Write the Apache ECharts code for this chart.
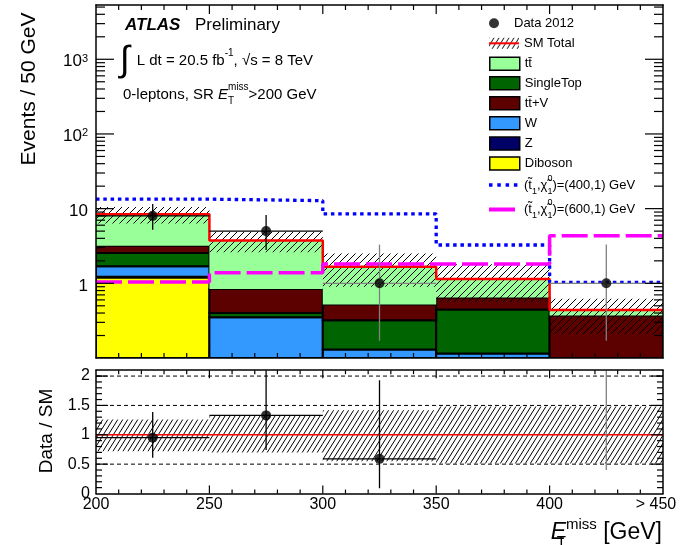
<!DOCTYPE html>
<html>
<head>
<meta charset="utf-8">
<script src="https://cdn.jsdelivr.net/npm/echarts@6.0.0/dist/echarts.min.js"></script>
<style>
html,body{margin:0;padding:0;background:#fff;}
#chart{width:688px;height:545px;}
</style>
</head>
<body>
<div id="chart"></div>
<script>
// ================= DATA =================
const binEdges   = [200, 250, 300, 350, 400, 450];
const binCenters = [225, 275, 325, 375, 425];

const xTickValues = [200, 250, 300, 350, 400, 450];
const xTickLabels = ['200', '250', '300', '350', '400', '> 450'];
const xMinorValues = [210, 220, 230, 240, 260, 270, 280, 290, 310, 320, 330, 340,
                      360, 370, 380, 390, 410, 420, 430, 440];
const yMajorValues = [1, 10, 100, 1000];
const yMajorLabels = ['1', '10', '10{sup|2}', '10{sup|3}'];
const yMinorValues = [0.2, 0.3, 0.4, 0.5, 0.6, 0.7, 0.8, 0.9,
                      2, 3, 4, 5, 6, 7, 8, 9,
                      20, 30, 40, 50, 60, 70, 80, 90,
                      200, 300, 400, 500, 600, 700, 800, 900,
                      2000, 3000, 4000, 5000];
const ratioTickValues = [0, 0.5, 1, 1.5, 2];
const ratioTickLabels = ['0', '0.5', '1', '1.5', '2'];
const ratioMinorValues = [0.1, 0.2, 0.3, 0.4, 0.6, 0.7, 0.8, 0.9, 1.1, 1.2, 1.3, 1.4,
                          1.6, 1.7, 1.8, 1.9, 2.0];

// stacked SM backgrounds (per bin)
const diboson   = [1.20, 0, 0, 0, 0];
const zjets     = [0.02, 0, 0, 0, 0];
const wjets     = [0.47, 0.35, 0.13, 0.115, 0];
const singleTop = [0.85, 0.05, 0.19, 0.33, 0];
const ttV       = [0.64, 0.44, 0.20, 0.20, 0.37];
const ttbar     = [5.24, 2.91, 1.15, 0.49, 0.07];
const smTotal   = [8.4, 3.75, 1.67, 1.14, 0.44];
const smBandLow  = [6.3, 2.6, 0.9, 0.56, 0.21];
const smBandHigh = [10.5, 4.9, 2.5, 1.8, 0.62];
// signals
const signal400 = [13.4, 12.8, 8.5, 3.26, 1.03];
const signal600 = [1.04, 1.39, 1.81, 1.81, 4.34];
// data
const dataCounts = [8, 5, 1, null, 1];
const dataLow    = [5.2, 2.8, 0.17, null, 0.17];
const dataHigh   = [11.5, 8.2, 3.3, null, 3.3];
// ratio panel
const ratioValues = [0.95, 1.33, 0.59, null, 2.27];
const ratioLow    = [0.61, 0.74, 0.09, null, 0.40];
const ratioHigh   = [1.39, 2.30, 1.93, null, 7.5];
const ratioBandLow  = [0.72, 0.70, 0.55, 0.51, 0.51];
const ratioBandHigh = [1.26, 1.32, 1.42, 1.48, 1.48];
const ratioRefDashed = [0.5, 1.5, 2];
const ratioRefSolid  = [1];

// ================= STYLE / LAYOUT =================
const FONT = 'Liberation Sans';
const Y_MIN = 0.1, Y_MAX = 5330;
const R_MIN = 0, R_MAX = 2.1;
const mainErrColors  = ['#000', '#000', '#808080', '#000', '#808080'];
const ratioErrColors = ['#000', '#000', '#000', '#000', '#808080'];

function makeHatch(w, h) {
  const c = document.createElement('canvas');
  c.width = w; c.height = h;
  const g = c.getContext('2d');
  g.strokeStyle = '#000'; g.lineWidth = 1;
  g.beginPath();
  g.moveTo(0, h); g.lineTo(w, 0);
  g.moveTo(-w, h); g.lineTo(0, 0);
  g.moveTo(w, h); g.lineTo(2 * w, 0);
  g.stroke();
  return c;
}
const hatchMain  = {image: makeHatch(7, 7), repeat: 'repeat'};
const hatchRatio = {image: makeHatch(5, 8), repeat: 'repeat'};

function rectShape(api, x0, x1, y0, y1) {
  const a = api.coord([x0, y1]);
  const b = api.coord([x1, y0]);
  return {x: a[0], y: a[1], width: b[0] - a[0], height: b[1] - a[1]};
}

const series = [];

// ---- stacked backgrounds ----
const stackDefs = [
  {name: 'Diboson',        values: diboson,   color: '#ffff00', stroke: true},
  {name: 'Z',              values: zjets,     color: '#000066', stroke: true},
  {name: 'W',              values: wjets,     color: '#3399ff', stroke: true},
  {name: 'SingleTop',      values: singleTop, color: '#006400', stroke: true},
  {name: 'tt\u0304+V',     values: ttV,       color: '#5c0000', stroke: true},
  {name: 'tt\u0304',       values: ttbar,     color: '#99ff99', stroke: false}
];
const cum = [0, 0, 0, 0, 0];
stackDefs.forEach(def => {
  const items = [];
  def.values.forEach((v, i) => {
    const lo = cum[i], hi = cum[i] + v;
    cum[i] = hi;
    if (v > 0) items.push([binEdges[i], binEdges[i + 1], Math.max(lo, Y_MIN), hi]);
  });
  series.push({
    type: 'custom', name: def.name, xAxisIndex: 0, yAxisIndex: 0, z: 2, clip: true, silent: true,
    itemStyle: {color: def.color},
    encode: {x: [0, 1], y: [2, 3]},
    data: items,
    renderItem: (params, api) => ({
      type: 'rect',
      shape: rectShape(api, api.value(0), api.value(1), api.value(2), api.value(3)),
      style: {fill: def.color, stroke: def.stroke ? '#000' : null, lineWidth: def.stroke ? 2 : 0}
    })
  });
});

// ---- SM uncertainty band (main) ----
series.push({
  type: 'custom', name: 'SM band', xAxisIndex: 0, yAxisIndex: 0, z: 3, clip: true, silent: true,
  encode: {x: [0, 1], y: [2, 3]},
  data: smBandLow.map((lo, i) => [binEdges[i], binEdges[i + 1], lo, smBandHigh[i]]),
  renderItem: (params, api) => ({
    type: 'rect',
    shape: rectShape(api, api.value(0), api.value(1), api.value(2), api.value(3)),
    style: {fill: hatchMain}
  })
});

function stepData(vals) {
  const d = vals.map((v, i) => [binEdges[i], v]);
  d.push([binEdges[binEdges.length - 1], vals[vals.length - 1]]);
  return d;
}
series.push({
  type: 'line', name: 'SM Total', xAxisIndex: 0, yAxisIndex: 0, z: 4, step: 'end',
  symbol: 'none', silent: true, data: stepData(smTotal),
  itemStyle: {color: '#ff0000'}, lineStyle: {color: '#ff0000', width: 2.5}
});
series.push({
  type: 'line', name: 'sig400', xAxisIndex: 0, yAxisIndex: 0, z: 5, step: 'end',
  symbol: 'none', silent: true, data: stepData(signal400),
  itemStyle: {color: '#0000ff'}, lineStyle: {color: '#0000ff', width: 3.3, type: [3.5, 3.8], cap: 'butt'}
});
series.push({
  type: 'line', name: 'sig600', xAxisIndex: 0, yAxisIndex: 0, z: 5, step: 'end',
  symbol: 'none', silent: true, data: stepData(signal600),
  itemStyle: {color: '#ff00ff'}, lineStyle: {color: '#ff00ff', width: 3.5, type: [26, 6], cap: 'butt'}
});

// ---- error bar renderer ----
function errRender(colors) {
  return (params, api) => {
    const cs = params.coordSys;
    const c  = api.coord([api.value(0), api.value(1)]);
    const lo = api.coord([api.value(0), api.value(2)]);
    const hi = api.coord([api.value(0), api.value(3)]);
    const l  = api.coord([api.value(4), api.value(1)]);
    const r  = api.coord([api.value(5), api.value(1)]);
    const col = colors[api.value(6)];
    const top = Math.max(hi[1], cs.y), bot = Math.min(lo[1], cs.y + cs.height);
    const ch = [{type: 'line', shape: {x1: c[0], y1: bot, x2: c[0], y2: top}, style: {stroke: col, lineWidth: 1.3}}];
    if (c[1] >= cs.y && c[1] <= cs.y + cs.height) {
      ch.push({type: 'line', shape: {x1: l[0], y1: c[1], x2: r[0], y2: c[1]}, style: {stroke: col, lineWidth: 1.3}});
    }
    return {type: 'group', children: ch};
  };
}

const dataErrItems = [];
dataCounts.forEach((v, i) => {
  if (v != null) dataErrItems.push([binCenters[i], v, dataLow[i], dataHigh[i], binEdges[i], binEdges[i + 1], i]);
});
series.push({
  type: 'custom', name: 'data err', xAxisIndex: 0, yAxisIndex: 0, z: 6, clip: true, silent: true,
  encode: {x: [0, 4, 5], y: [1, 2, 3]},
  data: dataErrItems, renderItem: errRender(mainErrColors)
});
series.push({
  type: 'scatter', name: 'Data 2012', xAxisIndex: 0, yAxisIndex: 0, z: 7, silent: true,
  symbol: 'circle', symbolSize: 10, itemStyle: {color: '#000'},
  data: dataCounts.map((v, i) => v == null ? null : [binCenters[i], v]).filter(d => d)
});

// ---- frame ticks drawn through the axes' scales ----
// item: [xValue, yValue, kind]  kind 0 = tick on y (left+right), 1 = tick on x (bottom+top)
function tickRender(len) {
  return (params, api) => {
    const cs = params.coordSys;
    const p = api.coord([api.value(0), api.value(1)]);
    const st = {stroke: '#000', lineWidth: 1.2};
    if (api.value(2) === 0) {
      const y = p[1];
      return {type: 'group', children: [
        {type: 'line', shape: {x1: cs.x, y1: y, x2: cs.x + len, y2: y}, style: st},
        {type: 'line', shape: {x1: cs.x + cs.width - len, y1: y, x2: cs.x + cs.width, y2: y}, style: st}
      ]};
    }
    const x = p[0];
    return {type: 'group', children: [
      {type: 'line', shape: {x1: x, y1: cs.y + cs.height, x2: x, y2: cs.y + cs.height - len}, style: st},
      {type: 'line', shape: {x1: x, y1: cs.y, x2: x, y2: cs.y + len}, style: st}
    ]};
  };
}
function tickSeries(name, xi, yi, items, len) {
  return {type: 'custom', name: name, xAxisIndex: xi, yAxisIndex: yi, z: 15, silent: true, clip: false,
    encode: {x: 0, y: 1}, data: items, renderItem: tickRender(len)};
}
series.push(tickSeries('mainYMinor', 0, 0, yMinorValues.map(v => [250, v, 0]), 9));
series.push(tickSeries('mainYMajor', 0, 0, yMajorValues.map(v => [250, v, 0]), 18));
series.push(tickSeries('mainXMinor', 0, 0, xMinorValues.map(v => [v, 1, 1]), 5));
series.push(tickSeries('mainXMajor', 0, 0, xTickValues.slice(1, -1).map(v => [v, 1, 1]), 9));
series.push(tickSeries('ratioYMinor', 2, 2, ratioMinorValues.map(v => [250, v, 0]), 6));
series.push(tickSeries('ratioYMajor', 2, 2, ratioTickValues.slice(1).map(v => [250, v, 0]), 12));
series.push(tickSeries('ratioXMinor', 2, 2, xMinorValues.map(v => [v, 1, 1]), 4));
series.push(tickSeries('ratioXMajor', 2, 2, xTickValues.slice(1, -1).map(v => [v, 1, 1]), 8));

// ---- ratio panel ----
series.push({
  type: 'custom', name: 'ratio band', xAxisIndex: 2, yAxisIndex: 2, z: 2, clip: true, silent: true,
  encode: {x: [0, 1], y: [2, 3]},
  data: ratioBandLow.map((lo, i) => [binEdges[i], binEdges[i + 1], lo, ratioBandHigh[i]]),
  renderItem: (params, api) => ({
    type: 'rect',
    shape: rectShape(api, api.value(0), api.value(1), api.value(2), api.value(3)),
    style: {fill: hatchRatio}
  })
});
function refLineRender(stroke, width, dash) {
  return (params, api) => {
    const a = api.coord([binEdges[0], api.value(1)]);
    const b = api.coord([binEdges[binEdges.length - 1], api.value(1)]);
    return {type: 'line', shape: {x1: a[0], y1: a[1], x2: b[0], y2: b[1]},
      style: {stroke: stroke, lineWidth: width, lineDash: dash}};
  };
}
series.push({
  type: 'custom', name: 'ratio dashed', xAxisIndex: 2, yAxisIndex: 2, z: 3, silent: true,
  encode: {x: 0, y: 1},
  data: ratioRefDashed.map(v => [binEdges[0], v]),
  renderItem: refLineRender('#000', 1, [4, 3])
});
series.push({
  type: 'custom', name: 'ratio one', xAxisIndex: 2, yAxisIndex: 2, z: 4, silent: true,
  encode: {x: 0, y: 1},
  data: ratioRefSolid.map(v => [binEdges[0], v]),
  renderItem: refLineRender('#ff0000', 1.5, null)
});
const ratioErrItems = [];
ratioValues.forEach((v, i) => {
  if (v != null) ratioErrItems.push([binCenters[i], v, ratioLow[i], ratioHigh[i], binEdges[i], binEdges[i + 1], i]);
});
series.push({
  type: 'custom', name: 'ratio err', xAxisIndex: 2, yAxisIndex: 2, z: 6, clip: true, silent: true,
  encode: {x: [0, 4, 5], y: [1, 2, 3]},
  data: ratioErrItems, renderItem: errRender(ratioErrColors)
});
series.push({
  type: 'scatter', name: 'ratio points', xAxisIndex: 2, yAxisIndex: 2, z: 7, silent: true, clip: true,
  symbol: 'circle', symbolSize: 10, itemStyle: {color: '#000'},
  data: ratioValues.map((v, i) => (v == null || v > R_MAX) ? null : [binCenters[i], v]).filter(d => d)
});

// ================= AXES =================
const axisLine = {show: true, onZero: false, lineStyle: {color: '#000', width: 1.5}};
function xAxisDef(grid, pos, showLabels) {
  return {
    type: 'value', gridIndex: grid, position: pos, min: 200, max: 450, interval: 50, z: 10,
    axisLine: axisLine,
    axisTick: {show: false}, minorTick: {show: false},
    splitLine: {show: false},
    axisLabel: showLabels ? {
      show: true, margin: 3, fontFamily: FONT, fontSize: 16, color: '#000',
      formatter: v => {
        const i = xTickValues.indexOf(v);
        if (i < 0) return '';
        return i === xTickValues.length - 1 ? '{last|' + xTickLabels[i] + '}' : xTickLabels[i];
      },
      rich: {last: {fontFamily: FONT, fontSize: 16, color: '#000', padding: [0, 14, 0, 0]}}
    } : {show: false}
  };
}
function logYAxisDef(pos, showLabels) {
  return {
    type: 'log', logBase: 10, gridIndex: 0, position: pos, min: Y_MIN, max: Y_MAX, z: 10,
    axisLine: axisLine,
    axisTick: {show: false}, minorTick: {show: false}, splitLine: {show: false},
    axisLabel: showLabels ? {
      show: true, margin: 8, fontFamily: FONT, fontSize: 17, color: '#000', padding: [5, 0, 0, 0],
      formatter: v => {
        const i = yMajorValues.findIndex(t => Math.abs(Math.log10(t) - Math.log10(v)) < 1e-6);
        return i < 0 ? '' : yMajorLabels[i];
      },
      rich: {sup: {fontFamily: FONT, fontSize: 11, color: '#000', verticalAlign: 'top', lineHeight: 11}}
    } : {show: false}
  };
}
function ratioYAxisDef(pos, showLabels) {
  return {
    type: 'value', gridIndex: 1, position: pos, min: R_MIN, max: R_MAX, interval: 0.5, z: 10,
    axisLine: axisLine,
    axisTick: {show: false}, minorTick: {show: false},
    splitLine: {show: false},
    axisLabel: showLabels ? {
      show: true, margin: 6, fontFamily: FONT, fontSize: 16, color: '#000',
      formatter: v => {
        const i = ratioTickValues.findIndex(t => Math.abs(t - v) < 1e-9);
        return i < 0 ? '' : ratioTickLabels[i];
      }
    } : {show: false}
  };
}

// ================= LEGENDS =================
const LEG_X = 489;
const legendText = {fontFamily: FONT, fontSize: 13, color: '#000', lineHeight: 14};
function boxLegend(name, cy) {
  return {
    show: true, orient: 'vertical', left: LEG_X, top: cy - 7, padding: 0, itemGap: 0, selectedMode: false,
    itemWidth: 30, itemHeight: 13, icon: 'rect',
    itemStyle: {borderColor: '#000', borderWidth: 1.5},
    textStyle: legendText, data: [name]
  };
}
const sigRich = {
  n:    {fontFamily: FONT, fontSize: 13, color: '#000', lineHeight: 22},
  sub:  {fontFamily: FONT, fontSize: 9, color: '#000', verticalAlign: 'bottom', lineHeight: 13},
  subz: {fontFamily: FONT, fontSize: 9, color: '#000', verticalAlign: 'bottom', lineHeight: 13, width: 0},
  sup:  {fontFamily: FONT, fontSize: 9, color: '#000', verticalAlign: 'top', lineHeight: 9}
};
function sigLabel(mass) {
  return '{n|(t\u0303}{sub|1}{n|,\u03c7\u0303}{subz|1}{sup|0}{n|)=(' + mass + ',1) GeV}';
}
const legends = [
  {show: true, orient: 'vertical', left: LEG_X, top: 23.3 - 7, padding: 0, selectedMode: false,
   itemWidth: 30, itemHeight: 10, icon: 'circle', itemStyle: {borderWidth: 0},
   textStyle: legendText, data: ['Data 2012']},
  {show: true, orient: 'vertical', left: LEG_X, top: 43.3 - 7, padding: 0, selectedMode: false,
   itemWidth: 30, itemHeight: 11, icon: 'rect', itemStyle: {color: hatchRatio, borderWidth: 0},
   textStyle: legendText, data: ['SM Total']},
  {show: true, orient: 'vertical', left: LEG_X, top: 43.3 - 7, padding: 0, selectedMode: false,
   itemWidth: 30, itemHeight: 2, icon: 'rect', itemStyle: {color: '#ff0000', borderWidth: 0},
   textStyle: Object.assign({}, legendText, {color: 'rgba(0,0,0,0)'}), data: ['SM Total']},
  boxLegend('tt\u0304', 63.5),
  boxLegend('SingleTop', 83),
  boxLegend('tt\u0304+V', 103),
  boxLegend('W', 123),
  boxLegend('Z', 143.3),
  boxLegend('Diboson', 163.3),
  {show: true, orient: 'vertical', left: LEG_X, top: 185 - 11, padding: 0, selectedMode: false,
   itemWidth: 30, itemHeight: 3.5,
   icon: 'path://M0,0h3.5v3.5h-3.5z M8.3,0h3.5v3.5h-3.5z M16.6,0h3.5v3.5h-3.5z M24.9,0h3.5v3.5h-3.5z M30,0L30,3.5',
   itemStyle: {borderWidth: 0},
   textStyle: {fontFamily: FONT, fontSize: 13, color: '#000', rich: sigRich},
   formatter: () => sigLabel(400), data: ['sig400']},
  {show: true, orient: 'vertical', left: LEG_X, top: 209.5 - 11, padding: 0, selectedMode: false,
   itemWidth: 30, itemHeight: 4,
   icon: 'path://M0,0h26v4h-26z M30,0L30,4',
   itemStyle: {borderWidth: 0},
   textStyle: {fontFamily: FONT, fontSize: 13, color: '#000', rich: sigRich},
   formatter: () => sigLabel(600), data: ['sig600']}
];

// ================= TEXT (titles / annotations) =================
function txt(x, y, text, extra) {
  return {type: 'text', x: x, y: y, silent: true, z: 20,
    style: Object.assign({text: text, fontFamily: FONT, fill: '#000', align: 'left', verticalAlign: 'middle',
      textAlign: 'left', textVerticalAlign: 'middle'}, extra || {})};
}
const annRich = {
  n:   {fontFamily: FONT, fontSize: 15, color: '#000', lineHeight: 24},
  ei:  {fontFamily: FONT, fontSize: 15, color: '#000', lineHeight: 24, fontStyle: 'italic'},
  sup: {fontFamily: FONT, fontSize: 10, color: '#000', verticalAlign: 'top', lineHeight: 10},
  sub: {fontFamily: FONT, fontSize: 10, color: '#000', verticalAlign: 'bottom', lineHeight: 14, width: 0}
};
const xtRich = {
  n:   {fontFamily: FONT, fontSize: 23, color: '#000', lineHeight: 32},
  ei:  {fontFamily: FONT, fontSize: 23, color: '#000', lineHeight: 32, fontStyle: 'italic'},
  sup: {fontFamily: FONT, fontSize: 15, color: '#000', verticalAlign: 'top', lineHeight: 15},
  sub: {fontFamily: FONT, fontSize: 15, color: '#000', verticalAlign: 'bottom', lineHeight: 19, width: 0}
};
const graphics = [
  txt(29, 89, 'Events / 50 GeV', {fontSize: 21, align: 'center', textAlign: 'center'}),
  txt(47, 431, 'Data / SM', {fontSize: 19, align: 'center', textAlign: 'center'}),
  txt(125, 25.5, 'ATLAS', {fontSize: 17, fontWeight: 'bold', fontStyle: 'italic'}),
  txt(195, 25.5, 'Preliminary', {fontSize: 17}),
  txt(120, 61, '\u222B', {fontSize: 36}),
  txt(136.7, 60.5, '{n|L dt = 20.5 fb}{sup|-1}{n|, \u221As = 8 TeV}', {rich: annRich}),
  txt(123, 94.7, '{n|0-leptons, SR }{ei|E}{sub|T}{sup|miss}{n|>200 GeV}', {rich: annRich}),
  txt(662, 533, '{ei|E}{sub|T}{sup|miss}{n| [GeV]}', {rich: xtRich, align: 'right', textAlign: 'right'})
];
graphics[0].rotation = Math.PI / 2;
graphics[1].rotation = Math.PI / 2;

// ================= CHART =================
const chart = echarts.init(document.getElementById('chart'), null, {renderer: 'canvas', width: 688, height: 545});
chart.setOption({
  animation: false,
  backgroundColor: '#fff',
  textStyle: {fontFamily: FONT},
  grid: [
    {left: 96, top: 5, width: 567, height: 353, show: false},
    {left: 96, top: 370.2, width: 567, height: 123.3, show: false}
  ],
  xAxis: [
    xAxisDef(0, 'bottom', false),
    xAxisDef(0, 'top', false),
    xAxisDef(1, 'bottom', true),
    xAxisDef(1, 'top', false)
  ],
  yAxis: [
    logYAxisDef('left', true),
    logYAxisDef('right', false),
    ratioYAxisDef('left', true),
    ratioYAxisDef('right', false)
  ],
  legend: legends,
  graphic: graphics,
  series: series
});
</script>
</body>
</html>
